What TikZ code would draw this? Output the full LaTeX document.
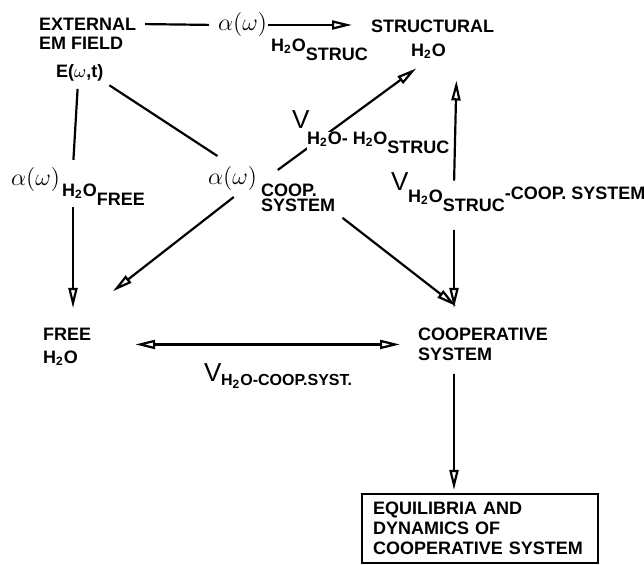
\documentclass[tikz,border=0pt]{standalone}
\usepackage{fontspec}
\setmainfont{Liberation Sans}
\usetikzlibrary{arrows.meta,positioning}
\newcommand{\lowr}[1]{\raisebox{-4.5pt}{#1}}
\newcommand{\highr}[1]{\raisebox{1.5pt}{#1}}
\newcommand{\water}{H\textsubscript{2}O}

\begin{document}
\begin{tikzpicture}[x=0.5pt, y=-0.5pt, line width=1.1pt,
  >={Triangle[open,length=10pt,width=4.5pt]},
  every node/.style={inner sep=0pt, font=\bfseries\fontsize{9}{10}\selectfont},
  greek/.style={font=\fontsize{13}{13}\selectfont},
  bigv/.style={font=\fontsize{13}{13}\selectfont}]
  \useasboundingbox (0,0) rectangle (644,565);
  % Field
  \node[anchor=west] (ext) at (38,24) {EXTERNAL};
  \node[anchor=west] (emfield) at (38,43.5) {EM FIELD};
  \node[anchor=west] (efield) at (55,72.5) {E($\omega$,t)};
  % Absorption terms
  \node[greek, anchor=west] (astruc) at (217,25) {$\alpha(\omega)$};
  \node[anchor=west] (astrucsub) at (270,50) {\water\lowr{STRUC}};
  \node[greek, anchor=west] (acoop) at (207,179) {$\alpha(\omega)$};
  \node[anchor=north west, align=left, font=\bfseries\fontsize{9}{7.5}\selectfont] (acoopsub) at (260,183) {COOP.\\SYSTEM};
  \node[greek, anchor=west] (afree) at (10,180) {$\alpha(\omega)$};
  \node[anchor=west] (afreesub) at (61,195) {\water\lowr{FREE}};
  % Water and system
  \node[anchor=west] (struc) at (370,26.5) {STRUCTURAL};
  \node[anchor=west] (strucw) at (410,51) {\water};
  \node[anchor=north west, align=left, font=\bfseries\fontsize{9}{11.5}\selectfont] (free) at (42,327) {FREE\\\water};
  \node[anchor=north west, align=left] (coop) at (417,327) {COOPERATIVE\\SYSTEM};
  \node[draw, anchor=north west, align=left, text width=107pt, inner xsep=5.5pt,
        minimum height=34.5pt] (equil) at (361,493) {EQUILIBRIA AND\\DYNAMICS OF\\COOPERATIVE SYSTEM};
  % Interaction terms
  \node[bigv, anchor=south west] (vs) at (291,130) {V};
  \node[bigv, anchor=south west] (vsc) at (390,192) {V};
  \node[anchor=west] (vscsub) at (407,199) {\water\lowr{STRUC}\highr{-COOP. SYSTEM}};
  \node[bigv, anchor=south west] (vfc) at (203,383) {V};
  \node[anchor=base west, font=\bfseries\fontsize{8}{8}\selectfont] (vfcsub) at (220,386) {\water-COOP.SYST.};
  % Connections
  \draw[shorten <=4pt, shorten >=4pt] (ext.east) -- (astruc.west);
  \draw[->, shorten >=9pt] (astruc.east) -- (astruc.east -| struc.west);
  \draw[shorten <=3pt, shorten >=9pt] (efield.south east) -- (acoop.north);
  \draw[shorten <=3.5pt, shorten >=3.5pt] ([xshift=11.5pt]efield.south west) -- ([xshift=15.5pt]free.north west |- afree.north);
  \draw[->, shorten >=9.5pt] ([xshift=15.5pt]free.north west |- afreesub.south) -- ([xshift=15.5pt]free.north west);
  \draw[->, shorten <=4pt, shorten >=29pt] (acoop.-60) -- (free.north);
  \draw[->, shorten <=4pt, shorten >=17pt] (acoopsub.south east) -- (coop.north);
  \draw[->, shorten <=11pt, shorten >=7.5pt] (acoopsub.north west) -- (strucw.south);
  \draw[<-, shorten <=10.5pt, shorten >=2.5pt] ([xshift=5pt]strucw.south east) -- ([xshift=18.5pt]coop.north west |- vscsub.north);
  \draw[->, shorten <=9pt, shorten >=9.5pt] ([xshift=18.5pt]coop.north west |- vscsub.south) -- ([xshift=18.5pt]coop.north west);
  \draw[<->, shorten <=21.5pt, shorten >=8.5pt] (free.east |- coop.west) -- (coop.west);
  \draw[->, shorten <=6pt, shorten >=1.5pt] ([xshift=18.5pt]coop.south west) -- ([xshift=18.5pt]coop.south west |- equil.north);
  % label over the line
  \node[anchor=west, fill=white] (vssub) at (306,143) {\water- \water\lowr{STRUC}};
\end{tikzpicture}
\end{document}
